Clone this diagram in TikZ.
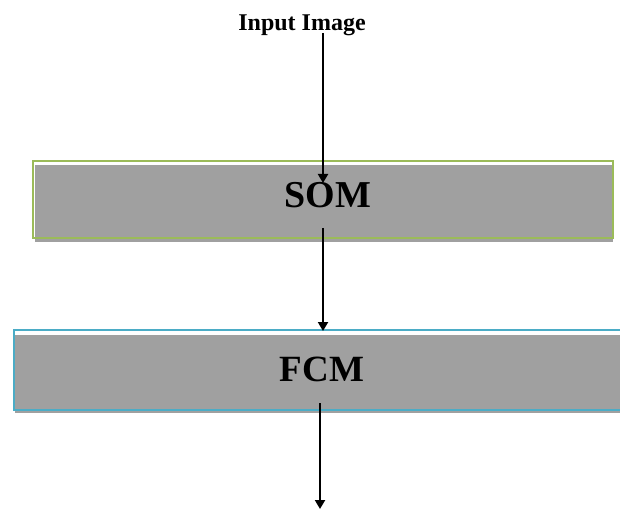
\documentclass[tikz,border=0pt]{standalone}
\usepackage{fontspec}
\setmainfont{Liberation Serif}
\usetikzlibrary{arrows.meta}
\definecolor{boxgray}{HTML}{A0A0A0}
\definecolor{somgreen}{HTML}{9BBB59}
\definecolor{fcmcyan}{HTML}{4BACC6}
\tikzset{
  lbl/.style={font=\bfseries, inner sep=0pt},
  conn/.style={draw=black, line width=2pt, -{Triangle[length=9pt,width=10pt]}},
}
\begin{document}
\begin{tikzpicture}[x=1pt,y=-1pt]
\useasboundingbox (0,0) rectangle (620,510);
% SOM box
\fill[boxgray] (35,165) rectangle (613,242);
\draw[somgreen, line width=2pt] (33,161) rectangle (613,238);
% FCM box
\fill[boxgray] (15,335) rectangle (620,413);
\draw[fcmcyan, line width=2pt] (14,330) rectangle (640,410);
% labels
\node[lbl, font=\fontsize{24}{28}\bfseries\selectfont, anchor=base] (inp) at (302,31) {Input Image};
\node[lbl, font=\fontsize{38}{44}\bfseries\selectfont, anchor=base] (som) at (328,208) {SOM};
\node[lbl, font=\fontsize{37}{44}\bfseries\selectfont, anchor=base] (fcm) at (322,381) {FCM};
\coordinate (a1s) at (323,33);
\coordinate (a1e) at (323,183);
\coordinate (a2s) at (323,228);
\coordinate (a2e) at (323,331);
\coordinate (a3s) at (320,403);
\coordinate (a3e) at (320,509);
\draw[conn] (a1s) -- (a1e);
\draw[conn] (a2s) -- (a2e);
\draw[conn] (a3s) -- (a3e);
\end{tikzpicture}
\end{document}
